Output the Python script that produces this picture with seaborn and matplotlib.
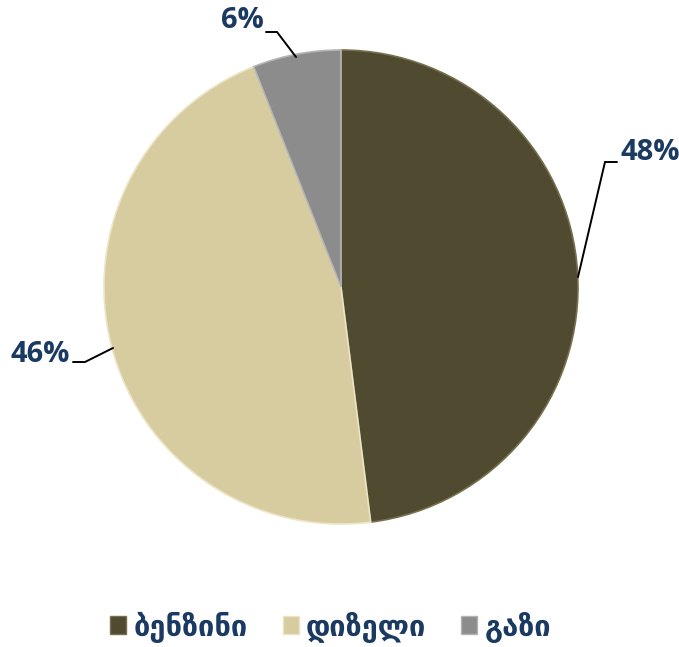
import matplotlib.pyplot as plt
import seaborn as sns
from matplotlib.patches import Patch

# data
labels = ['ბენზინი', 'დიზელი', 'გაზი']
shares = [48, 46, 6]
colors = ['#4f4a30', '#d6cca0', '#8c8c8c']
edge_colors = ['#77704f', '#ece4c4', '#b4b4b4']

sns.set_style('white')
plt.rcParams['font.family'] = ['DejaVu Sans']

W, H = 679, 647
CX, CY, R = 341, 287, 237


def px(x, y):
    # pixel position -> data units (pie radius = 1)
    return (x - CX) / R, (CY - y) / R


fig = plt.figure(figsize=(W / 100, H / 100), dpi=100)
ax = fig.add_axes([0, 0, 1, 1])

wedges, _ = ax.pie(shares, colors=colors, startangle=90, counterclock=False,
                   radius=1, wedgeprops=dict(linewidth=1.2))
for w, ec in zip(wedges, edge_colors):
    w.set_edgecolor(ec)

ax.set_aspect('auto')
ax.set_xlim(px(0, 0)[0], px(W, 0)[0])
ax.set_ylim(px(0, H)[1], px(0, 0)[1])
ax.axis('off')

# percentage labels with leader lines
label_pos = [(650, 153), (40, 355), (242, 21)]
leaders = [
    [(617, 162), (605, 162), (578, 277)],
    [(73, 362), (85, 362), (113, 348)],
    [(266, 32), (277, 32), (296, 57)],
]
for val, pos, pts in zip(shares, label_pos, leaders):
    xs, ys = zip(*[px(*p) for p in pts])
    ax.plot(xs, ys, color='black', lw=1.4, solid_joinstyle='miter')
    tx, ty = px(*pos)
    ax.text(tx, ty, f'{val}%', ha='center', va='center', fontsize=21,
            fontweight='bold', color='#1b3a62', family=['Open Sans', 'DejaVu Sans'])

handles = [Patch(facecolor=c, edgecolor=ec, linewidth=1) for c, ec in zip(colors, edge_colors)]
leg = fig.legend(handles, labels, loc='center', bbox_to_anchor=(0.487, 1 - 627 / H),
                 ncol=3, frameon=False, handlelength=0.55, handleheight=0.55,
                 handletextpad=0.25, columnspacing=1.2,
                 prop=dict(size=21, weight='bold'))
for t in leg.get_texts():
    t.set_color('#1b3a62')

fig.savefig('out.png', dpi=100)
